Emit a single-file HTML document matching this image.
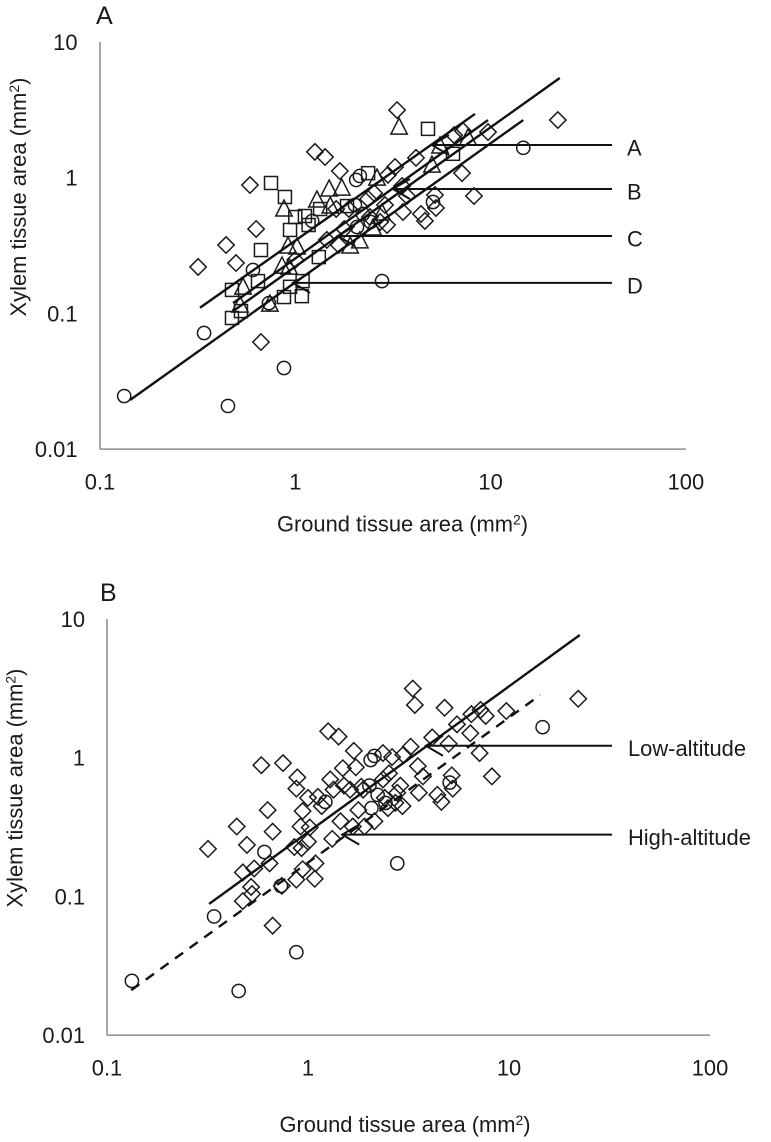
<!DOCTYPE html>
<html lang="en">
<head>
<meta charset="utf-8">
<title>Xylem tissue area vs ground tissue area</title>
<style>
html,body{margin:0;padding:0;background:#fff;}
svg{display:block;font-family:"Liberation Sans",Arial,sans-serif;fill:#1a1a1a;}
</style>
</head>
<body>
<svg id="chart" xmlns="http://www.w3.org/2000/svg" width="771" height="1142" viewBox="0 0 771 1142">
  <rect x="0" y="0" width="771" height="1142" fill="#fff"/>
  <g id="panel-a"></g>
  <g id="panel-b"></g>
  <text x="96" y="24" font-size="25">A</text>
  <text x="100" y="601" font-size="25">B</text>
  <text x="402.5" y="531.5" font-size="21.9" text-anchor="middle">Ground tissue area (mm<tspan dy="-7" font-size="14">2</tspan><tspan dy="7">)</tspan></text>
  <text x="405" y="1132" font-size="21.9" text-anchor="middle">Ground tissue area (mm<tspan dy="-7" font-size="14">2</tspan><tspan dy="7">)</tspan></text>
  <text transform="translate(26,197) rotate(-90)" font-size="21.9" text-anchor="middle">Xylem tissue area (mm<tspan dy="-7" font-size="14">2</tspan><tspan dy="7">)</tspan></text>
  <text transform="translate(22.5,788) rotate(-90)" font-size="21.9" text-anchor="middle">Xylem tissue area (mm<tspan dy="-7" font-size="14">2</tspan><tspan dy="7">)</tspan></text>
</svg>
<script>
// Axis ticks
const xTicks = [0.1, 1, 10, 100];
const yTicks = [0.01, 0.1, 1, 10];

// Species A-D observations: ground tissue area / xylem tissue area (mm2)
const circleGround = [0.133,0.341,0.452,0.875,0.733,0.607,1.22,2.78,2.05,2.14,2.02,2.07,2.43,2.22,5.07,14.7];
const circleXylem  = [0.0246,0.0717,0.0208,0.0396,0.119,0.209,0.48,0.173,0.962,1.03,0.629,0.433,0.472,0.54,0.662,1.66];

const squareGround = [0.751,0.885,1.0,1.12,1.17,0.94,0.667,1.32,0.644,0.474,1.09,0.94,0.875,1.08,0.474,0.527,4.78,6.42,2.36,1.84,1.34];
const squareXylem  = [0.914,0.721,0.513,0.522,0.448,0.412,0.293,0.26,0.173,0.149,0.173,0.157,0.132,0.134,0.0925,0.104,2.29,1.5,1.08,0.618,0.588];

const triangleGround = [0.875,1.29,1.49,1.73,1.51,0.918,1.02,0.855,0.54,0.521,0.741,3.4,2.62,5.01,7.66,5.51,2.5,2.14,1.91,2.78,0.929];
const triangleXylem  = [0.598,0.697,0.84,0.853,0.629,0.319,0.314,0.227,0.159,0.117,0.119,2.4,1.01,1.26,2.0,1.74,0.433,0.348,0.319,0.559,0.223];

const diamondGround = [1.26,1.42,1.69,0.586,0.63,0.442,0.497,0.318,3.32,22.1,3.24,2.98,4.15,6.5,7.22,9.7,7.14,8.22,5.19,5.25,4.4,4.61,3.73,3.52,3.56,2.95,2.53,2.36,1.78,2.72,1.45,1.67,1.0,0.667,1.62,1.88,2.41,2.88];
const diamondXylem  = [1.55,1.42,1.12,0.883,0.419,0.319,0.235,0.22,3.15,2.66,1.2,1.05,1.4,2.06,2.21,2.17,1.08,0.733,0.746,0.598,0.54,0.48,0.733,0.869,0.559,0.448,0.771,0.697,0.419,0.472,0.348,0.319,0.248,0.0615,0.588,0.588,0.513,0.629];

// Fitted lines, panel A: [start, end]
const fitAGround = [0.325, 8.32];
const fitAXylem  = [0.11, 2.95];
const fitBGround = [0.48, 9.7];
const fitBXylem  = [0.119, 2.66];
const fitCGround = [0.48, 22.6];
const fitCXylem  = [0.104, 5.43];
const fitDGround = [0.1425, 14.7];
const fitDXylem  = [0.023, 2.66];

// Fitted lines, panel B: [start, end]
const fitLowGround  = [0.322, 22.5];
const fitLowXylem   = [0.0882, 7.67];
const fitHighGround = [0.132, 14.3];
const fitHighXylem  = [0.0211, 2.83];

// Callouts pointing at the fitted lines
const calloutALabels = ['A', 'B', 'C', 'D'];
const calloutAGround = [5.01, 3.16, 1.65, 0.973];
const calloutAXylem  = [1.74, 0.826, 0.372, 0.168];
const calloutBLabels = ['Low-altitude', 'High-altitude'];
const calloutBGround = [3.86, 1.48];
const calloutBXylem  = [1.22, 0.279];

const NS = 'http://www.w3.org/2000/svg';
const INK = '#1a1a1a';

function make(tag, parent, attrs) {
  const el = document.createElementNS(NS, tag);
  for (const k in attrs) el.setAttribute(k, attrs[k]);
  parent.appendChild(el);
  return el;
}

function scales(panel) {
  return {
    x: v => panel.x0 + (Math.log10(v) + 1) * panel.xDecade,
    y: v => panel.yTop + (1 - Math.log10(v)) * panel.yDecade
  };
}

function drawAxes(g, panel, s, prefix) {
  const yAxis = make('line', g, {x1: panel.x0, x2: panel.x0, y1: s.y(10), y2: s.y(0.01), stroke: '#8c8c8c', 'stroke-width': 1.5});
  
  
  const xAxis = make('line', g, {x1: panel.x0, x2: s.x(100), y1: s.y(0.01), y2: s.y(0.01), stroke: '#8c8c8c', 'stroke-width': 1.5});
  
  
  xTicks.forEach(t => {
    const lab = make('text', g, {x: s.x(t) + panel.xLabelShift, y: panel.xLabelY, 'font-size': 21.9, 'text-anchor': 'middle'});
    lab.textContent = String(t);
    
    
  });
  yTicks.forEach(t => {
    const lab = make('text', g, {x: panel.yLabelX, y: s.y(t) + 8, 'font-size': 21.9, 'text-anchor': 'end'});
    lab.textContent = String(t);
    
    
  });
}

function drawMarker(g, shape, cx, cy) {
  const style = {fill: 'none', stroke: INK, 'stroke-width': 1.5};
  let el;
  if (shape === 'circle') {
    el = make('circle', g, Object.assign({cx: cx, cy: cy, r: 6.6}, style));
  } else if (shape === 'square') {
    el = make('rect', g, Object.assign({x: cx - 6.5, y: cy - 6.5, width: 13, height: 13}, style));
  } else if (shape === 'triangle') {
    el = make('path', g, Object.assign({d: 'M' + cx + ' ' + (cy - 8) + 'L' + (cx + 8.2) + ' ' + (cy + 8) + 'L' + (cx - 8.2) + ' ' + (cy + 8) + 'Z'}, style));
  } else {
    el = make('path', g, Object.assign({d: 'M' + cx + ' ' + (cy - 8.2) + 'L' + (cx + 8.2) + ' ' + cy + 'L' + cx + ' ' + (cy + 8.2) + 'L' + (cx - 8.2) + ' ' + cy + 'Z'}, style));
  }
  return el;
}

function drawSeries(g, s, shape, gx, gy, prefix) {
  gx.forEach((v, i) => {
    const el = drawMarker(g, shape, s.x(v), s.y(gy[i]));
    
    
  });
}

function drawFit(g, s, gx, gy, name, dashed) {
  const el = make('line', g, {x1: s.x(gx[0]), y1: s.y(gy[0]), x2: s.x(gx[1]), y2: s.y(gy[1]), stroke: '#111', 'stroke-width': 2.4});
  if (dashed) el.setAttribute('stroke-dasharray', '10 8');
  
  
}

function drawCallout(g, s, gx, gy, endX, labelX, label, prefix) {
  const tx = s.x(gx), ty = s.y(gy);
  const el = make('path', g, {
    d: 'M' + endX + ' ' + ty + 'L' + tx + ' ' + ty + 'M' + (tx + 17) + ' ' + (ty - 10) + 'L' + tx + ' ' + ty + 'L' + (tx + 17) + ' ' + (ty + 10),
    fill: 'none', stroke: '#111', 'stroke-width': 2
  });
  
  
  const t = make('text', g, {x: labelX, y: ty + 10.5, 'font-size': 21.9});
  t.textContent = label;
  
  
}

// Panel A
const panelA = {x0: 100, xDecade: 195.3, yTop: 42, yDecade: 135.7, xLabelY: 489.5, yLabelX: 77.5, xLabelShift: 0};
const sA = scales(panelA);
const gA = document.getElementById('panel-a');
drawAxes(gA, panelA, sA, 'panel-a');
drawSeries(gA, sA, 'circle', circleGround, circleXylem, 'panel-a');
drawSeries(gA, sA, 'square', squareGround, squareXylem, 'panel-a');
drawSeries(gA, sA, 'triangle', triangleGround, triangleXylem, 'panel-a');
drawSeries(gA, sA, 'diamond', diamondGround, diamondXylem, 'panel-a');
drawFit(gA, sA, fitAGround, fitAXylem, 'fit-line-a', false);
drawFit(gA, sA, fitBGround, fitBXylem, 'fit-line-b', false);
drawFit(gA, sA, fitCGround, fitCXylem, 'fit-line-c', false);
drawFit(gA, sA, fitDGround, fitDXylem, 'fit-line-d', false);
calloutALabels.forEach((lab, i) => {
  drawCallout(gA, sA, calloutAGround[i], calloutAXylem[i], 612, 627, lab, 'panel-a');
});

// Panel B
const panelB = {x0: 107, xDecade: 201, yTop: 619, yDecade: 138.7, xLabelY: 1075.5, yLabelX: 85, xLabelShift: 0};
const sB = scales(panelB);
const gB = document.getElementById('panel-b');
drawAxes(gB, panelB, sB, 'panel-b');
drawSeries(gB, sB, 'circle', circleGround, circleXylem, 'panel-b');
drawSeries(gB, sB, 'diamond', squareGround, squareXylem, 'panel-b');
drawSeries(gB, sB, 'diamond', triangleGround, triangleXylem, 'panel-b');
drawSeries(gB, sB, 'diamond', diamondGround, diamondXylem, 'panel-b');
drawFit(gB, sB, fitLowGround, fitLowXylem, 'fit-line-low-altitude', false);
drawFit(gB, sB, fitHighGround, fitHighXylem, 'fit-line-high-altitude', true);
calloutBLabels.forEach((lab, i) => {
  drawCallout(gB, sB, calloutBGround[i], calloutBXylem[i], 612, 628, lab, 'panel-b');
});
</script>
</body>
</html>
